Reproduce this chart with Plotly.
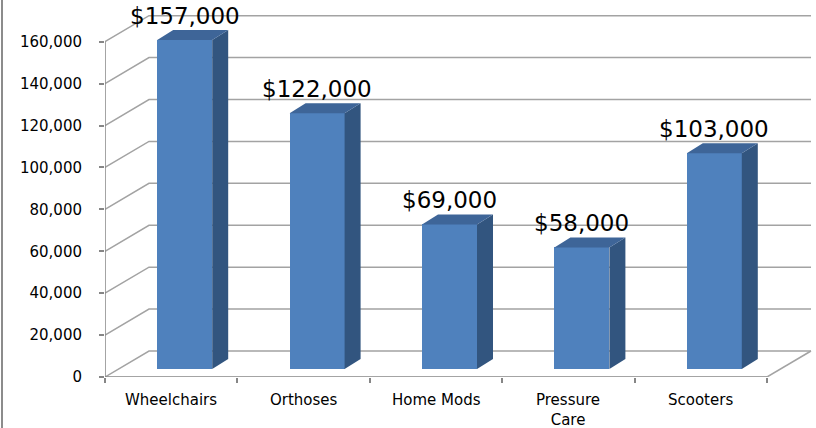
import plotly.graph_objects as go

categories = ["Wheelchairs", "Orthoses", "Home Mods", "Pressure<br>Care", "Scooters"]
values = [157000, 122000, 69000, 58000, 103000]
label_texts = ["$157,000", "$122,000", "$69,000", "$58,000", "$103,000"]
y_ticks = [0, 20000, 40000, 60000, 80000, 100000, 120000, 140000, 160000]

# ---- geometry (pixel-based oblique projection) ----
W, H = 816, 428
ML, MR, MT, MB = 105, 3, 10, 51
plot_w = W - ML - MR
plot_h = H - MT - MB
cat_px = 132.4                     # px per category on the front plane
val_per_px = 160000 / 335.3        # value units per px
x_min = -0.5
x_max = x_min + plot_w / cat_px
y_max = plot_h * val_per_px

def dx(px):
    return px / cat_px

def dy(px):
    return px * val_per_px

wall_dx, wall_dy = dx(44), dy(26)        # back wall offset
front_dx, front_dy = dx(13.5), dy(8)     # bar front-face depth offset
bar_dx, bar_dy = dx(16), dy(10)          # bar depth
bar_w = dx(55)

grid_col = "#A3A3A3"
axis_col = "#868686"
front_col = "#4F81BD"
top_col = "#3E6598"
side_col = "#32557F"

n = len(categories)
x_left, x_right = -0.5, n - 0.5

shapes = []
# gridlines on left wall + back wall
for v in y_ticks:
    shapes.append(dict(type="path", xref="x", yref="y", layer="below",
                       path=f"M {x_left},{v} L {x_left + wall_dx},{v + wall_dy} L {x_right + wall_dx},{v + wall_dy}",
                       line=dict(color=grid_col, width=1.5)))
# floor right edge
shapes.append(dict(type="line", xref="x", yref="y", layer="below",
                   x0=x_right, y0=0, x1=x_right + wall_dx, y1=wall_dy,
                   line=dict(color=grid_col, width=1.5)))
# axis lines
shapes.append(dict(type="line", xref="x", yref="y", layer="below",
                   x0=x_left, y0=0, x1=x_left, y1=y_ticks[-1],
                   line=dict(color=axis_col, width=1.5)))
shapes.append(dict(type="line", xref="x", yref="y", layer="below",
                   x0=x_left, y0=0, x1=x_right, y1=0,
                   line=dict(color=axis_col, width=1.5)))
# left chart border
shapes.append(dict(type="line", xref="paper", yref="paper",
                   x0=(2 - ML) / plot_w, x1=(2 - ML) / plot_w,
                   y0=-MB / plot_h, y1=(plot_h + MT) / plot_h,
                   line=dict(color="#8C8C8C", width=2)))

fig = go.Figure()

xs_front = [i + front_dx for i in range(n)]

fig.add_trace(go.Bar(x=xs_front, y=values, base=front_dy, width=bar_w,
                     marker=dict(color=front_col, line=dict(width=0)),
                     hoverinfo="skip", showlegend=False))

side_x, side_y, top_x, top_y = [], [], [], []
for xc, v in zip(xs_front, values):
    xl, xr = xc - bar_w / 2, xc + bar_w / 2
    yb, yt = front_dy, front_dy + v
    side_x += [xr, xr, xr + bar_dx, xr + bar_dx, xr, None]
    side_y += [yb, yt, yt + bar_dy, yb + bar_dy, yb, None]
    top_x += [xl, xr, xr + bar_dx, xl + bar_dx, xl, None]
    top_y += [yt, yt, yt + bar_dy, yt + bar_dy, yt, None]

fig.add_trace(go.Scatter(x=side_x, y=side_y, mode="lines", fill="toself",
                         fillcolor=side_col, line=dict(width=0, color=side_col),
                         hoverinfo="skip", showlegend=False))
fig.add_trace(go.Scatter(x=top_x, y=top_y, mode="lines", fill="toself",
                         fillcolor=top_col, line=dict(width=0, color=top_col),
                         hoverinfo="skip", showlegend=False))

annotations = []
for xc, v, t in zip(xs_front, values, label_texts):
    annotations.append(dict(x=xc, y=front_dy + v, xref="x", yref="y", text=t,
                            showarrow=False, yshift=24, yanchor="middle",
                            font=dict(family="DejaVu Sans", size=23, color="black")))
for i, c in enumerate(categories):
    annotations.append(dict(x=i, y=0, xref="x", yref="y", text=c,
                            showarrow=False, yanchor="top", yshift=-12,
                            font=dict(family="DejaVu Sans", size=15, color="black")))

fig.update_layout(
    width=W, height=H,
    margin=dict(l=ML, r=MR, t=MT, b=MB),
    paper_bgcolor="white", plot_bgcolor="white",
    shapes=shapes, annotations=annotations,
    bargap=0,
    xaxis=dict(range=[x_min, x_max], showgrid=False, zeroline=False, showline=False,
               tickvals=[i - 0.5 for i in range(n + 1)], ticktext=[""] * (n + 1),
               ticks="outside", ticklen=5, tickcolor=axis_col, tickwidth=1.5,
               fixedrange=True),
    yaxis=dict(range=[0, y_max], showgrid=False, zeroline=False, showline=False,
               tickvals=y_ticks, tickformat=",d",
               ticks="outside", ticklen=5, tickcolor=axis_col, tickwidth=1.5,
               ticklabelstandoff=14,
               tickfont=dict(family="DejaVu Sans", size=15, color="black"),
               fixedrange=True),
)

fig.write_html("out.html",
               config={"displayModeBar": False},
               post_script="document.body.style.margin='0';document.body.style.padding='0';")
